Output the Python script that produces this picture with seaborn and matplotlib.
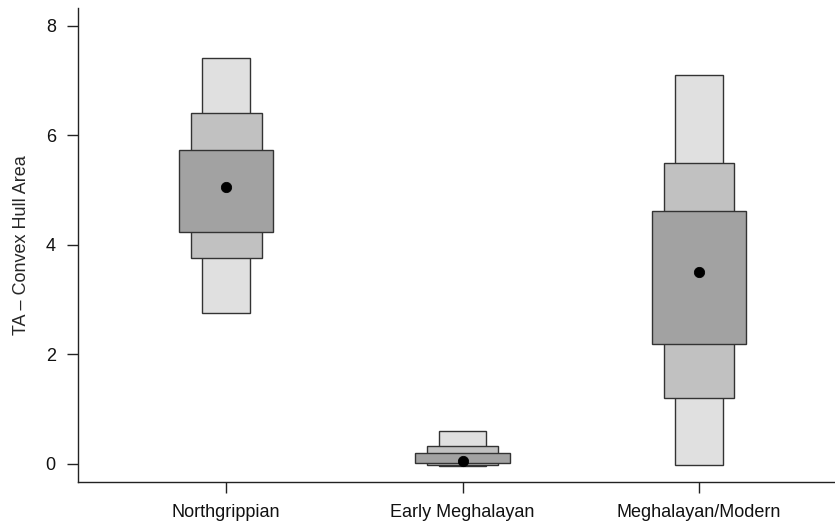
import matplotlib
matplotlib.use("Agg")
import matplotlib.pyplot as plt
import seaborn as sns
import pandas as pd
import numpy as np

# ---- data ----
groups = ["Northgrippian", "Early Meghalayan", "Meghalayan/Modern"]
mode = [5.05, 0.06, 3.50]
ci95_low = [2.75, -0.04, -0.02]
ci95_high = [7.40, 0.61, 7.10]
ci75_low = [3.75, -0.02, 1.20]
ci75_high = [6.40, 0.33, 5.49]
ci50_low = [4.23, 0.01, 2.19]
ci50_high = [5.73, 0.195, 4.62]
yticks = [0, 2, 4, 6, 8]

sns.set_theme(style="ticks")
plt.rcParams["font.family"] = ["Liberation Sans", "DejaVu Sans"]

fig = plt.figure(figsize=(8.35, 5.28), dpi=100)
ax = fig.add_axes([78 / 835, 1 - 481.7 / 528, 1 - 78 / 835, (481.7 - 8) / 528])

x = np.arange(1, len(groups) + 1)
edge = "#333333"
levels = [
    (ci95_low, ci95_high, 0.2, "#e0e0e0"),
    (ci75_low, ci75_high, 0.3, "#c1c1c1"),
    (ci50_low, ci50_high, 0.4, "#a2a2a2"),
]
for lo, hi, w, col in levels:
    lo = np.array(lo)
    hi = np.array(hi)
    ax.bar(x, hi - lo, bottom=lo, width=w, color=col, edgecolor=edge,
           linewidth=1.0, zorder=2)

df = pd.DataFrame({"x": x, "mode": mode})
sns.scatterplot(data=df, x="x", y="mode", ax=ax, color="black", s=55,
                edgecolor="black", zorder=5, legend=False)

ax.set_xlim(0.374, 3.575)
ax.set_ylim(-0.323, 8.32)
ax.set_xticks(x)
ax.set_xticklabels(groups)
ax.set_yticks(yticks)
ax.set_yticklabels([str(v) for v in yticks])
ax.set_xlabel("")
ax.set_ylabel("TA \u2013 Convex Hull Area", fontsize=13)
ax.yaxis.set_label_coords(-0.064, 0.5)

for s in ["top", "right"]:
    ax.spines[s].set_visible(False)
for s in ["left", "bottom"]:
    ax.spines[s].set_color("#222222")
    ax.spines[s].set_linewidth(1.0)
ax.tick_params(axis="both", length=8, width=1.0, color="#222222",
               labelsize=13, labelcolor="#111111", pad=8)
ax.grid(False)
ax.set_facecolor("white")

fig.savefig("out.png", dpi=100)
